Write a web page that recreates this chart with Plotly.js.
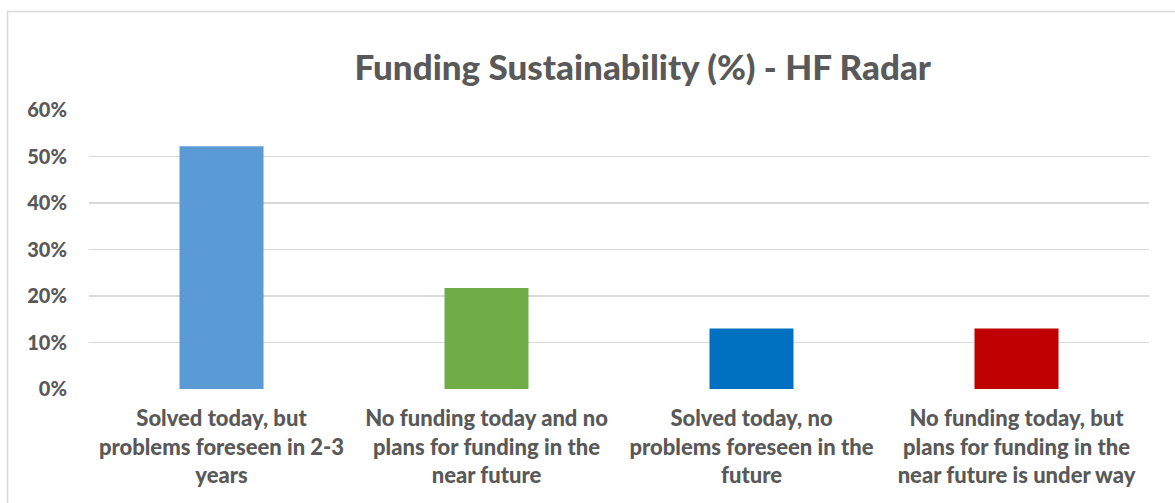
<!DOCTYPE html>
<html>
<head>
<meta charset="utf-8">
<script src="https://cdn.plot.ly/plotly-3.0.1.min.js"></script>
<style>html,body{margin:0;padding:0;background:#fff;}#chart{width:1175px;height:503px;}</style>
</head>
<body>
<div id="chart"></div>
<script>
const categories = [
  "Solved today, but<br>problems foreseen in 2-3<br>years",
  "No funding today and no<br>plans for funding in the<br>near future",
  "Solved today, no<br>problems foreseen in the<br>future",
  "No funding today, but<br>plans for funding in the<br>near future is under way"
];
const values = [0.522, 0.217, 0.130, 0.130];
const barColors = ["#5B9BD5", "#70AD47", "#0070C0", "#C00000"];
const yTickVals = [0, 0.1, 0.2, 0.3, 0.4, 0.5, 0.6];
const yTickText = ["0%", "10%", "20%", "30%", "40%", "50%", "60%"];

const FONT = "Lato, 'Open Sans', sans-serif";
const TXT = "#595959";

const trace = {
  type: "bar",
  x: categories,
  y: values,
  marker: {color: barColors},
  width: 0.317,
  hoverinfo: "skip"
};

const layout = {
  width: 1175,
  height: 503,
  margin: {l: 89, r: 26, t: 110, b: 114},
  paper_bgcolor: "#fff",
  plot_bgcolor: "#fff",
  showlegend: false,
  title: {
    text: "Funding Sustainability (%) - HF Radar",
    font: {family: FONT, size: 35, color: TXT, weight: 900},
    x: 0.547, xref: "container", xanchor: "center",
    y: 0.865, yref: "container", yanchor: "middle"
  },
  xaxis: {
    type: "category",
    showgrid: false,
    showline: false,
    zeroline: false,
    ticks: "",
    tickfont: {family: FONT, size: 22, color: TXT, weight: 900},
    ticklabelstandoff: 14
  },
  yaxis: {
    range: [0, 0.6],
    tickvals: yTickVals,
    ticktext: yTickText,
    showgrid: true,
    gridcolor: "#D9D9D9",
    gridwidth: 1.3,
    zeroline: false,
    showline: false,
    ticks: "",
    tickfont: {family: FONT, size: 20, color: TXT, weight: 900},
    ticklabelstandoff: 21
  },
  shapes: [{
    type: "path",
    xref: "paper", yref: "paper",
    path: "M -0.0769,-0.6 L -0.0769,1.353 L 1.1,1.353",
    line: {color: "#D9D9D9", width: 1.5}
  }]
};

Plotly.newPlot("chart", [trace], layout, {displayModeBar: false, staticPlot: true});
</script>
</body>
</html>
